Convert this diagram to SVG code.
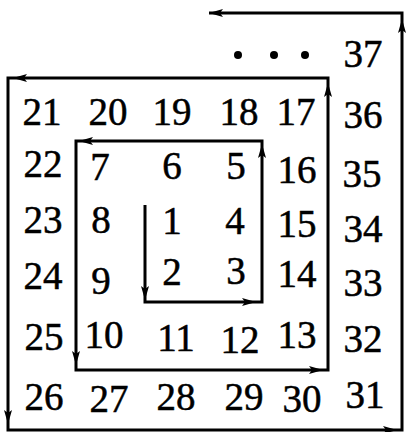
<svg xmlns="http://www.w3.org/2000/svg" width="409" height="432" viewBox="0 0 409 432">
<style>
.t{font-family:'Liberation Serif','Times New Roman','DejaVu Serif',serif;font-size:39px;fill:#000;stroke:#000;stroke-width:0.5;text-anchor:middle}
.ln{fill:none;stroke:#000;stroke-width:3;stroke-linejoin:miter}
.ar{fill:none;stroke:none;marker-end:url(#ah)}
</style>
<defs>
<marker id="ah" viewBox="0 0 14 8" refX="14" refY="4" markerWidth="14" markerHeight="8" markerUnits="userSpaceOnUse" orient="auto">
<path d="M0,0 L14,4 L0,8 L3,4 z" fill="#000"/>
</marker>
</defs>
<rect width="409" height="432" fill="#fff"/>
<g id="connectors">
<path class="ln" d="M145,205 V302 H262 V141 H76 V370 H328 V78 H8 V430 H402 V13 H209"/>
<path class="ar" d="M145,290 V300"/>
<path class="ar" d="M245,302 H256"/>
<path class="ar" d="M262,155 V144"/>
<path class="ar" d="M90,141 H79"/>
<path class="ar" d="M76,355 V365"/>
<path class="ar" d="M312,370 H323"/>
<path class="ar" d="M328,95 V83"/>
<path class="ar" d="M25,78 H13"/>
<path class="ar" d="M8,410 V424"/>
<path class="ar" d="M385,430 H397"/>
<path class="ar" d="M402,32 V19"/>
<path class="ar" d="M222,13 H209"/>
</g>
<g id="dots">
<circle cx="238" cy="55" r="4"/>
<circle cx="274" cy="55" r="4"/>
<circle cx="305" cy="55" r="4"/>
</g>
<g id="n37"><text class="t" x="363" y="67">37</text></g>
<g id="n21"><text class="t" x="42" y="125">21</text></g>
<g id="n20"><text class="t" x="108" y="125">20</text></g>
<g id="n19"><text class="t" x="172" y="125">19</text></g>
<g id="n18"><text class="t" x="239" y="125">18</text></g>
<g id="n17"><text class="t" x="296" y="125">17</text></g>
<g id="n36"><text class="t" x="363" y="128">36</text></g>
<g id="n22"><text class="t" x="43" y="177">22</text></g>
<g id="n7"><text class="t" x="100" y="180">7</text></g>
<g id="n6"><text class="t" x="172" y="179">6</text></g>
<g id="n5"><text class="t" x="236" y="179">5</text></g>
<g id="n16"><text class="t" x="297" y="183">16</text></g>
<g id="n35"><text class="t" x="362" y="187">35</text></g>
<g id="n23"><text class="t" x="43" y="233">23</text></g>
<g id="n8"><text class="t" x="101" y="233">8</text></g>
<g id="n1"><text class="t" x="172" y="234">1</text></g>
<g id="n4"><text class="t" x="235" y="234">4</text></g>
<g id="n15"><text class="t" x="297" y="237">15</text></g>
<g id="n34"><text class="t" x="363" y="242">34</text></g>
<g id="n24"><text class="t" x="43" y="289">24</text></g>
<g id="n9"><text class="t" x="101" y="294">9</text></g>
<g id="n2"><text class="t" x="172" y="285">2</text></g>
<g id="n3"><text class="t" x="236" y="284">3</text></g>
<g id="n14"><text class="t" x="297" y="287">14</text></g>
<g id="n33"><text class="t" x="363" y="296">33</text></g>
<g id="n25"><text class="t" x="44" y="350">25</text></g>
<g id="n10"><text class="t" x="104" y="348">10</text></g>
<g id="n11"><text class="t" x="176" y="351">11</text></g>
<g id="n12"><text class="t" x="240" y="353">12</text></g>
<g id="n13"><text class="t" x="297" y="348">13</text></g>
<g id="n32"><text class="t" x="363" y="352">32</text></g>
<g id="n26"><text class="t" x="44" y="410">26</text></g>
<g id="n27"><text class="t" x="109" y="412">27</text></g>
<g id="n28"><text class="t" x="176" y="410">28</text></g>
<g id="n29"><text class="t" x="244" y="410">29</text></g>
<g id="n30"><text class="t" x="302" y="412">30</text></g>
<g id="n31"><text class="t" x="365" y="408">31</text></g>
</svg>
